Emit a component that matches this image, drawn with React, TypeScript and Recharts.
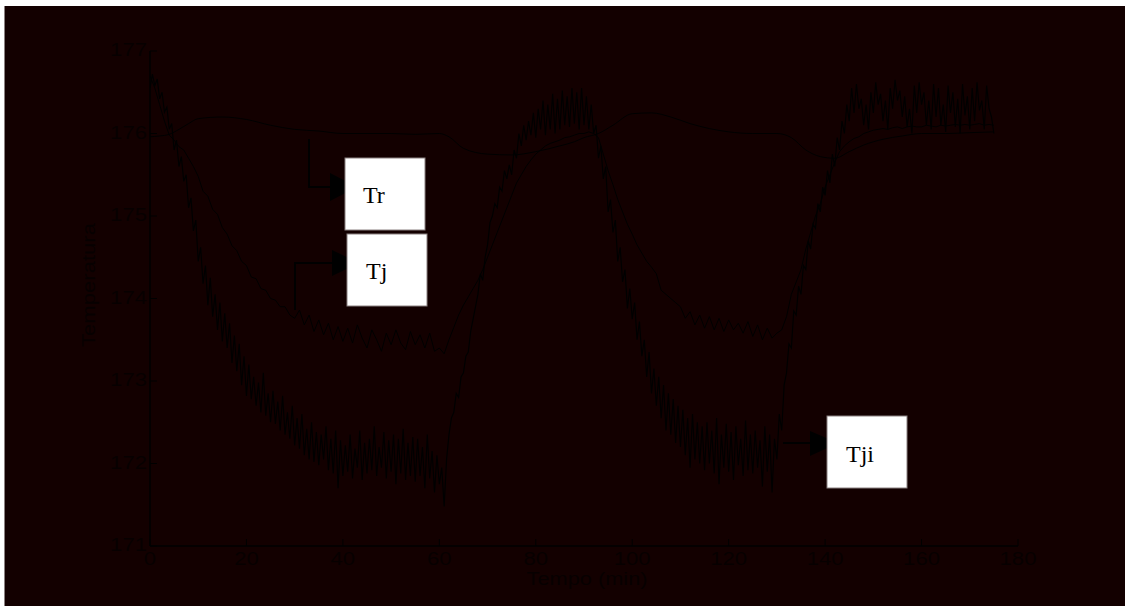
import React from "react";
import { LineChart, Line, XAxis, YAxis } from "recharts";

const xTicks = [0, 20, 40, 60, 80, 100, 120, 140, 160, 180];
const yTicks = [171, 172, 173, 174, 175, 176, 177];

// Tr: reactor temperature, read at uneven times (min)
const trTimes = [
  0, 2, 4, 6, 8, 10, 15, 20, 25, 30, 35, 40, 45, 50, 55, 60, 62, 65, 70, 75, 80, 85, 88, 90, 93, 96, 100,
  104, 108, 112, 116, 120, 125, 130, 133, 136, 139, 142, 145, 148, 152, 156, 160, 165, 170, 175,
];
const trValues = [
  175.96, 175.97, 175.99, 176.05, 176.12, 176.18, 176.2, 176.17, 176.1, 176.05, 176.03, 176.0, 176.0, 176.0,
  175.99, 176.0, 175.96, 175.82, 175.75, 175.74, 175.78, 175.85, 175.9, 175.95, 176.0, 176.1, 176.24, 176.25,
  176.2, 176.12, 176.06, 176.02, 176.0, 176.0, 175.95, 175.8, 175.72, 175.7, 175.78, 175.86, 175.93, 175.97,
  176.0, 176.0, 176.01, 176.02,
];

// Tj: jacket temperature, one reading per minute from t = 0
const tjStep = 1;
const tjValues = [
  176.7, 176.55, 176.35, 176.15, 175.98, 175.92, 175.84, 175.8, 175.7, 175.6,
  175.48, 175.3, 175.24, 175.08, 175.02, 174.86, 174.78, 174.64, 174.58, 174.45,
  174.4, 174.26, 174.24, 174.12, 174.1, 174.0, 173.98, 173.9, 173.9, 173.8,
  173.76, 173.86, 173.68, 173.8, 173.6, 173.74, 173.56, 173.7, 173.5, 173.66,
  173.48, 173.64, 173.46, 173.68, 173.52, 173.4, 173.62, 173.5, 173.36, 173.58,
  173.44, 173.62, 173.46, 173.38, 173.6, 173.44, 173.56, 173.4, 173.58, 173.36,
  173.4, 173.33, 173.5, 173.65, 173.8, 173.92, 174.02, 174.12, 174.22, 174.35,
  174.5, 174.65, 174.8, 174.95, 175.1, 175.25, 175.4, 175.5, 175.6, 175.68,
  175.75, 175.8, 175.85, 175.88, 175.9, 175.92, 175.95, 175.96, 175.98, 176.0,
  176.0, 176.02, 176.0, 175.95, 175.75, 175.55, 175.38, 175.2, 175.05, 174.9,
  174.78, 174.65, 174.55, 174.45, 174.38, 174.3, 174.1, 174.05, 174.0, 173.95,
  173.9, 173.76, 173.84, 173.68, 173.8, 173.64, 173.78, 173.62, 173.76, 173.6,
  173.74, 173.62, 173.7, 173.58, 173.72, 173.54, 173.68, 173.5, 173.64, 173.52,
  173.58, 173.62, 173.78, 174.05, 174.2, 174.35, 174.6, 174.8, 175.0, 175.15,
  175.35, 175.5, 175.65, 175.78, 175.85, 175.9, 175.94, 175.96, 176.0, 176.02,
  176.04, 176.05, 176.06, 176.05, 176.07, 176.08, 176.06, 176.08, 176.09, 176.08,
  176.08, 176.1, 176.09, 176.08, 176.1, 176.09, 176.1, 176.11, 176.1, 176.11,
  176.1, 176.11, 176.12, 176.1, 176.11, 176.1,
];

// Tji: jacket inlet temperature, one reading every half minute from t = 0
const tjiStep = 0.5;
const tjiValues = [
  176.55, 176.72, 176.58, 176.66, 176.42, 176.5, 176.26, 176.32, 176.05, 176.12,
  175.8, 175.92, 175.6, 175.72, 175.42, 175.5, 175.1, 175.22, 174.82, 174.95,
  174.45, 174.62, 174.18, 174.4, 173.92, 174.25, 173.78, 174.05, 173.62, 173.95,
  173.48, 173.82, 173.4, 173.7, 173.22, 173.55, 173.12, 173.45, 172.95, 173.3,
  172.82, 173.2, 172.78, 173.05, 172.7, 172.98, 172.62, 173.1, 172.58, 172.85,
  172.5, 172.88, 172.48, 172.75, 172.4, 172.82, 172.35, 172.62, 172.3, 172.7,
  172.22, 172.55, 172.18, 172.6, 172.1, 172.42, 172.05, 172.5, 172.02, 172.38,
  171.98, 172.35, 172.05, 172.45, 171.92, 172.3, 171.88, 172.4, 171.7, 172.28,
  171.85, 172.22, 171.9, 172.35, 171.82, 172.18, 171.95, 172.4, 171.8, 172.25,
  171.88, 172.3, 171.92, 172.45, 171.85, 172.2, 171.95, 172.38, 171.82, 172.28,
  171.9, 172.35, 171.75, 172.3, 171.88, 172.42, 171.8, 172.25, 171.85, 172.32,
  171.78, 172.3, 171.85, 172.2, 171.7, 172.35, 171.82, 172.15, 171.65, 172.1,
  171.75, 171.95, 171.48, 172.05, 172.35, 172.55, 172.62, 172.85, 172.8, 173.05,
  173.1, 173.3, 173.35, 173.6, 173.75, 173.9, 174.05, 174.3, 174.22, 174.5,
  174.65, 174.92, 175.0, 175.15, 175.1, 175.35, 175.3, 175.55, 175.45, 175.62,
  175.5, 175.8, 175.7, 176.0, 175.85, 176.1, 175.92, 176.15, 175.98, 176.25,
  175.95, 176.3, 176.05, 176.4, 175.98, 176.35, 176.05, 176.48, 176.0, 176.42,
  176.05, 176.52, 176.1, 176.45, 176.08, 176.55, 176.12, 176.5, 176.05, 176.55,
  176.1, 176.45, 176.05, 176.35, 176.0, 176.1, 175.7, 175.85, 175.45, 175.6,
  175.05, 175.2, 174.8, 174.95, 174.45, 174.62, 174.2, 174.35, 173.88, 174.12,
  173.75, 173.95, 173.5, 173.72, 173.3, 173.5, 173.05, 173.35, 172.85, 173.15,
  172.7, 173.05, 172.55, 172.95, 172.4, 172.85, 172.35, 172.78, 172.25, 172.7,
  172.2, 172.65, 172.1, 172.55, 171.95, 172.6, 172.05, 172.5, 172.0, 172.45,
  171.92, 172.5, 172.0, 172.4, 171.88, 172.55, 171.75, 172.35, 171.95, 172.48,
  171.9, 172.38, 171.8, 172.45, 171.98, 172.3, 171.85, 172.52, 171.92, 172.35,
  171.88, 172.4, 171.95, 172.28, 171.72, 172.45, 171.9, 172.35, 171.65, 172.3,
  172.05, 172.6, 172.4, 172.95, 173.1, 173.45, 173.4, 173.85, 173.8, 174.15,
  174.05, 174.4, 174.35, 174.7, 174.6, 174.9, 174.85, 175.15, 175.05, 175.35,
  175.25, 175.55, 175.4, 175.75, 175.6, 175.95, 175.8, 176.15, 176.0, 176.35,
  176.15, 176.55, 176.25, 176.6, 176.3, 176.42, 176.1, 176.35, 176.05, 176.5,
  176.25, 176.62, 176.35, 176.48, 176.15, 176.4, 176.05, 176.55, 176.3, 176.65,
  176.4, 176.52, 176.2, 176.45, 176.08, 176.3, 176.0, 176.58, 176.25, 176.62,
  176.35, 176.5, 176.1, 176.4, 176.05, 176.6, 176.2, 176.55, 176.1, 176.35,
  176.02, 176.58, 176.25, 176.5, 176.08, 176.42, 176.0, 176.6, 176.22, 176.45,
  176.05, 176.55, 176.15, 176.62, 176.28, 176.4, 176.05, 176.58, 176.3, 176.2,
  176.0,
];

const trData = trTimes.map((t, i) => ({ t, v: trValues[i] }));
const tjData = tjValues.map((v, i) => ({ t: i * tjStep, v }));
const tjiData = tjiValues.map((v, i) => ({ t: i * tjiStep, v }));

const BG = "#130000";
const INK = "#000000";
const TEXT = "#070000";
const SANS = "'Liberation Sans', Arial, sans-serif";
const SERIF = "'Liberation Serif', 'Times New Roman', serif";
const DIGIT_W = 12.3;

function BottomTick({ x, y, payload }: any) {
  const label = String(payload.value);
  return (
    <g>
      <line x1={x} x2={x} y1={y} y2={y - 7} stroke={INK} strokeWidth={1} />
      <text x={x} y={y + 19} textAnchor="middle" fill={TEXT} fontSize={18} fontFamily={SANS}
        textLength={label.length * DIGIT_W} lengthAdjust="spacingAndGlyphs">
        {label}
      </text>
    </g>
  );
}

function TopTick({ x, y }: any) {
  return <line x1={x} x2={x} y1={y} y2={y + 7} stroke={INK} strokeWidth={1} />;
}

function LeftTick({ x, y, payload }: any) {
  const label = String(payload.value);
  return (
    <g>
      <line x1={x} x2={x + 7} y1={y} y2={y} stroke={INK} strokeWidth={1} />
      <text x={x - 3} y={y + 5} textAnchor="end" fill={TEXT} fontSize={18} fontFamily={SANS}
        textLength={label.length * DIGIT_W} lengthAdjust="spacingAndGlyphs">
        {label}
      </text>
    </g>
  );
}

function RightTick({ x, y }: any) {
  return <line x1={x} x2={x - 8} y1={y} y2={y} stroke={INK} strokeWidth={1} />;
}

function LabelBox({ x, y, w, h, text, tx, ty }: any) {
  return (
    <g>
      <rect x={x} y={y} width={w} height={h} fill="#ffffff" stroke="#8a8080" strokeWidth={1} />
      <text x={tx} y={ty} fill="#000" fontSize={24} fontFamily={SERIF}>
        {text}
      </text>
    </g>
  );
}

export default function App() {
  const axisLine = { stroke: INK, strokeWidth: 1.5 };
  return (
    <div style={{ position: "absolute", left: 0, top: 0, width: 1125, height: 613, background: "#fff", overflow: "hidden" }}>
      <div style={{ position: "absolute", left: 4, top: 6, width: 1121, height: 600, background: BG, borderLeft: "1px solid #8a8080" }} />
      <div style={{ position: "absolute", left: 0, top: 0 }}>
        <LineChart width={1125} height={613} margin={{ top: 51, right: 107, bottom: 0, left: 0 }}>
          <XAxis xAxisId="b" type="number" dataKey="t" domain={[0, 180]} ticks={xTicks} interval={0}
            orientation="bottom" height={67} tickSize={0} tickMargin={0} tickLine={false}
            axisLine={axisLine} tick={(p: any) => <BottomTick {...p} />} allowDataOverflow />
          <XAxis xAxisId="t" type="number" dataKey="t" domain={[0, 180]} ticks={xTicks} interval={0}
            orientation="top" height={0} tickSize={0} tickMargin={0} tickLine={false}
            axisLine={axisLine} tick={(p: any) => <TopTick {...p} />} allowDataOverflow />
          <YAxis yAxisId="l" type="number" domain={[171, 177]} ticks={yTicks} interval={0}
            width={150} tickSize={0} tickMargin={0} tickLine={false}
            axisLine={axisLine} tick={(p: any) => <LeftTick {...p} />} allowDataOverflow />
          <YAxis yAxisId="r" type="number" orientation="right" domain={[171, 177]} ticks={yTicks} interval={0}
            width={0} tickSize={0} tickMargin={0} tickLine={false}
            axisLine={axisLine} tick={(p: any) => <RightTick {...p} />} allowDataOverflow />
          <Line xAxisId="b" yAxisId="l" data={tjiData} dataKey="v" type="linear" stroke={INK}
            strokeWidth={1.2} dot={false} isAnimationActive={false} />
          <Line xAxisId="b" yAxisId="l" data={tjData} dataKey="v" type="linear" stroke={INK}
            strokeWidth={1} dot={false} isAnimationActive={false} />
          <Line xAxisId="t" yAxisId="r" data={trData} dataKey="v" type="monotone" stroke={INK}
            strokeWidth={1} dot={false} isAnimationActive={false} />
        </LineChart>
      </div>
      <svg width={1125} height={613} style={{ position: "absolute", left: 0, top: 0, pointerEvents: "none" }}>
        <text x={587} y={585} textAnchor="middle" fill={TEXT} fontSize={18} fontFamily={SANS}
          textLength={121} lengthAdjust="spacingAndGlyphs">
          Tempo (min)
        </text>
        <text x={0} y={0} transform="translate(95 285) rotate(-90)" textAnchor="middle" fill={TEXT}
          fontSize={18} fontFamily={SANS} textLength={124} lengthAdjust="spacingAndGlyphs">
          Temperatura
        </text>

        <polyline points="309,139 309,187 332,187" fill="none" stroke={INK} strokeWidth={2} />
        <polygon points="330,173 357,187 330,201" fill={INK} />
        <LabelBox x={345} y={158} w={80} h={72} text="Tr" tx={363} ty={203} />

        <polyline points="295,310 295,263 334,263" fill="none" stroke={INK} strokeWidth={2} />
        <polygon points="332,250 359,263 332,276" fill={INK} />
        <LabelBox x={347} y={234} w={80} h={72} text="Tj" tx={366} ty={279} />

        <line x1={783} x2={812} y1={443} y2={443} stroke={INK} strokeWidth={2} />
        <polygon points="810,431 838,443 810,456" fill={INK} />
        <LabelBox x={827} y={416} w={80} h={72} text="Tji" tx={846} ty={462} />
      </svg>
    </div>
  );
}
